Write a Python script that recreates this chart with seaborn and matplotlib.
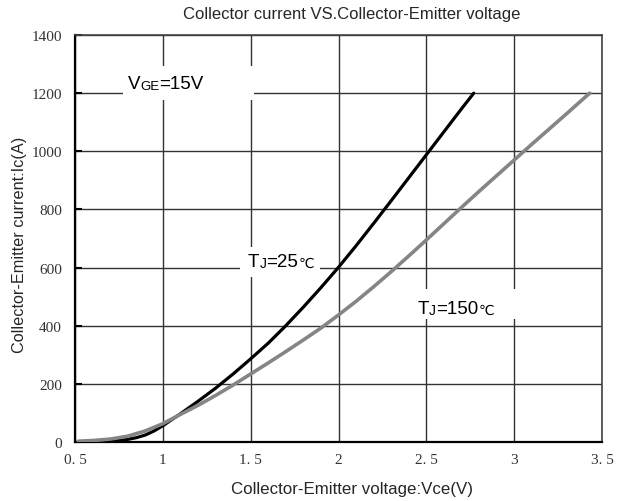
import pandas as pd
import seaborn as sns
import matplotlib.pyplot as plt
from matplotlib.patches import Rectangle

sns.set_theme(style="white")
plt.rcParams['font.family'] = ['Liberation Sans Narrow', 'Liberation Sans', 'DejaVu Sans']

# Tj = 25 C curve
vce_25 = [0.67, 0.7, 0.75, 0.8, 0.85, 0.9, 0.95, 1.0, 1.1, 1.2, 1.3, 1.4, 1.5,
          1.6, 1.7, 1.8, 1.9, 2.0, 2.1, 2.2, 2.3, 2.4, 2.5, 2.6, 2.7, 2.77]
ic_25 = [1, 2, 5, 9, 15, 24, 38, 56, 97, 140, 185, 234, 286,
         340, 400, 464, 531, 601, 675, 752, 830, 909, 988, 1067, 1146, 1200]
# Tj = 150 C curve
vce_150 = [0.52, 0.6, 0.7, 0.8, 0.9, 1.0, 1.1, 1.2, 1.3, 1.4, 1.5, 1.6, 1.7,
           1.8, 1.9, 2.0, 2.1, 2.2, 2.3, 2.4, 2.5, 2.6, 2.7, 2.8, 2.9, 3.0,
           3.1, 3.2, 3.3, 3.43]
ic_150 = [3, 5, 10, 20, 38, 63, 95, 126, 160, 196, 234, 272, 311,
          351, 392, 437, 484, 534, 586, 640, 695, 751, 807, 862, 916, 970,
          1024, 1077, 1130, 1200]

x_ticks = [0.5, 1.0, 1.5, 2.0, 2.5, 3.0, 3.5]
x_tick_labels = ["0. 5", "1", "1. 5", "2", "2. 5", "3", "3. 5"]
y_ticks = [0, 200, 400, 600, 800, 1000, 1200, 1400]

df = pd.concat([
    pd.DataFrame({"Vce": vce_25, "Ic": ic_25, "Tj": "25"}),
    pd.DataFrame({"Vce": vce_150, "Ic": ic_150, "Tj": "150"}),
])

fig = plt.figure(figsize=(6.3, 5.02), dpi=100)
ax = fig.add_axes([75 / 630, 59 / 502, 527 / 630, 407 / 502])

sns.lineplot(data=df, x="Vce", y="Ic", hue="Tj", sort=False, legend=False,
             palette={"25": "black", "150": "#858585"}, ax=ax, zorder=5)
ax.lines[0].set_linewidth(2.3)
ax.lines[1].set_linewidth(2.6)
for ln in ax.lines:
    ln.set_solid_capstyle("round")
    ln.set_solid_joinstyle("round")

ax.set_xlim(0.5, 3.5)
ax.set_ylim(0, 1400)
ax.set_xticks(x_ticks)
ax.set_xticklabels(x_tick_labels)
ax.set_yticks(y_ticks)
ax.grid(True, color="#333333", linewidth=1.0)
ax.set_axisbelow(True)
for side in ["left", "bottom"]:
    ax.spines[side].set_color("black")
    ax.spines[side].set_linewidth(1.6)
for side in ["top", "right"]:
    ax.spines[side].set_color("#444444")
    ax.spines[side].set_linewidth(1.2)
ax.tick_params(axis="y", direction="in", length=5, width=1.5, pad=9.5,
               left=True, colors="black", labelcolor="#333333")
ax.tick_params(axis="x", length=0, pad=8, labelcolor="#333333")
for lab in ax.get_xticklabels() + ax.get_yticklabels():
    lab.set_fontfamily(["Liberation Serif", "DejaVu Serif"])
    lab.set_fontsize(11)
ax.set_xlabel("")
ax.set_ylabel("")

fig.text(352 / 630, 1 - 15 / 502, "Collector current VS.Collector-Emitter voltage",
         ha="center", va="center", fontsize=12)
fig.text(352 / 630, 1 - 490 / 502, "Collector-Emitter voltage:Vce(V)",
         ha="center", va="center", fontsize=12.2)
fig.text(20 / 630, 1 - 245 / 502, "Collector-Emitter current:Ic(A)",
         ha="center", va="center", rotation=90, fontsize=11.7)


def label(x0, x1, y0, y1, tx, ty, parts):
    ax.add_patch(Rectangle((x0, y0), x1 - x0, y1 - y0, facecolor="white",
                           edgecolor="none", zorder=3))
    prev = ax.text(tx, ty, parts[0][0], fontsize=parts[0][1], va="baseline",
                   ha="left", zorder=4, color="black")
    for s, size in parts[1:]:
        prev = ax.annotate(s, xy=(1, 0), xycoords=prev, va="bottom", ha="left",
                           fontsize=size, zorder=4, color="black")


label(0.773, 1.519, 1176, 1293, 0.80, 1218,
      [("V", 13.5), ("GE", 9.5), ("=15V", 13.5)])
label(1.439, 1.894, 568, 671, 1.485, 605,
      [("T", 13.5), ("J", 10), ("=25", 13.5), ("℃", 10)])
label(2.378, 3.02, 423, 526, 2.452, 443,
      [("T", 13.5), ("J", 10), ("=150", 13.5), ("℃", 10)])

fig.savefig("out.png", dpi=100)
